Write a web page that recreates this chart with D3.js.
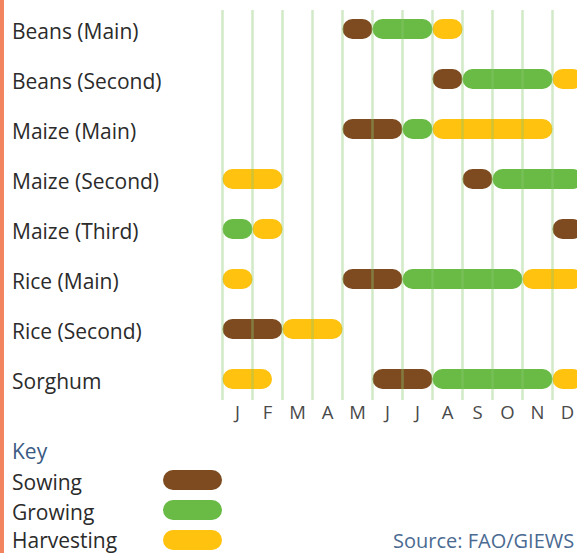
<!DOCTYPE html>
<html>
<head>
<meta charset="utf-8">
<script src="https://cdn.jsdelivr.net/npm/d3@7"></script>
<style>
  html, body { margin: 0; padding: 0; background: #fff; }
  svg { display: block; }
  text { font-family: "Open Sans", "Noto Sans", sans-serif; }
</style>
</head>
<body>
<svg id="chart" width="577" height="553"></svg>
<script>
// Crop calendar: month positions are 0 = start of January … 12 = end of December
const crops = ["Beans (Main)", "Beans (Second)", "Maize (Main)", "Maize (Second)",
               "Maize (Third)", "Rice (Main)", "Rice (Second)", "Sorghum"];
const months = ["J", "F", "M", "A", "M", "J", "J", "A", "S", "O", "N", "D"];
const stages = ["Sowing", "Growing", "Harvesting"];
const stageColors = ["#7d4b1f", "#69bb45", "#ffc20e"];

// [crop, stage, start month, end month]
const periods = [
  ["Beans (Main)", "Sowing", 4, 5],
  ["Beans (Main)", "Growing", 5, 7],
  ["Beans (Main)", "Harvesting", 7, 8],
  ["Beans (Second)", "Sowing", 7, 8],
  ["Beans (Second)", "Growing", 8, 11],
  ["Beans (Second)", "Harvesting", 11, 12],
  ["Maize (Main)", "Sowing", 4, 6],
  ["Maize (Main)", "Growing", 6, 7],
  ["Maize (Main)", "Harvesting", 7, 11],
  ["Maize (Second)", "Harvesting", 0, 2],
  ["Maize (Second)", "Sowing", 8, 9],
  ["Maize (Second)", "Growing", 9, 12],
  ["Maize (Third)", "Growing", 0, 1],
  ["Maize (Third)", "Harvesting", 1, 2],
  ["Maize (Third)", "Sowing", 11, 12],
  ["Rice (Main)", "Harvesting", 0, 1],
  ["Rice (Main)", "Sowing", 4, 6],
  ["Rice (Main)", "Growing", 6, 10],
  ["Rice (Main)", "Harvesting", 10, 12],
  ["Rice (Second)", "Sowing", 0, 2],
  ["Rice (Second)", "Harvesting", 2, 4],
  ["Sorghum", "Harvesting", 0, 1.65],
  ["Sorghum", "Sowing", 5, 7],
  ["Sorghum", "Growing", 7, 11],
  ["Sorghum", "Harvesting", 11, 12]
];

const svg = d3.select("#chart");

const x = d3.scaleLinear().domain([0, 12]).range([222.5, 582.5]);
const xMonth = d3.scaleBand().domain(d3.range(12)).range([222.5, 582.5]);
const y = d3.scalePoint().domain(crops).range([29, 379]);
const color = d3.scaleOrdinal().domain(stages).range(stageColors);
const barH = 20;
const labelSize = 21;

// orange edge strip
svg.append("rect").attr("x", 0).attr("y", 0).attr("width", 4).attr("height", 553)
  .attr("fill", "#f2845f");

// crop labels
svg.append("g").selectAll("text").data(crops).join("text")
  .attr("x", 12).attr("y", d => y(d) + 9.5)
  .attr("font-size", labelSize).attr("fill", "#2b2b2b")
  .text(d => d);

// stage bars
svg.append("g").selectAll("rect").data(periods).join("rect")
  .attr("x", d => x(d[2]))
  .attr("y", d => y(d[0]) - barH / 2)
  .attr("width", d => x(d[3]) - x(d[2]))
  .attr("height", barH)
  .attr("rx", barH / 2).attr("ry", barH / 2)
  .attr("fill", d => color(d[1]));

// month boundary grid, drawn over the bars
svg.append("g").selectAll("line").data(d3.range(13)).join("line")
  .attr("x1", d => x(d)).attr("x2", d => x(d))
  .attr("y1", 10).attr("y2", 400)
  .attr("stroke", "#8cc870").attr("stroke-opacity", 0.38).attr("stroke-width", 2.6);

// month axis
const axis = svg.append("g").attr("transform", "translate(0,400)")
  .call(d3.axisBottom(xMonth).tickSize(0).tickFormat(i => months[i]));
axis.select(".domain").remove();
axis.selectAll("text")
  .attr("y", 19).attr("dy", 0)
  .attr("font-size", 18.5).attr("fill", "#4a4a4a")
  .style("font-family", "'Open Sans', sans-serif");

// key
svg.append("text").attr("x", 12).attr("y", 459)
  .attr("font-size", labelSize).attr("fill", "#3b5b84").text("Key");
const key = svg.append("g").selectAll("g").data(stages).join("g")
  .attr("transform", (d, i) => `translate(0,${480 + i * 30})`);
key.append("text").attr("x", 12).attr("y", d => d === "Harvesting" ? 7.5 : 9.5)
  .attr("font-size", labelSize).attr("fill", "#2b2b2b").text(d => d);
key.append("rect").attr("x", 163).attr("y", -barH / 2)
  .attr("width", 59).attr("height", barH)
  .attr("rx", barH / 2).attr("fill", d => color(d));

// source note
svg.append("text").attr("x", 393).attr("y", 548)
  .attr("font-size", 20).attr("fill", "#4a6a92").text("Source: FAO/GIEWS");
</script>
</body>
</html>
